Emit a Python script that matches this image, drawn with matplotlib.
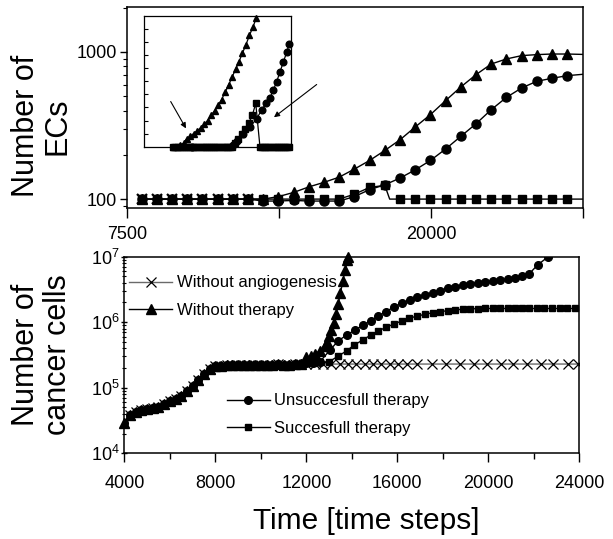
import matplotlib
matplotlib.use("Agg")
import matplotlib.pyplot as plt
from matplotlib.ticker import LogLocator, NullFormatter

plt.rcParams['font.family'] = ['Liberation Sans', 'DejaVu Sans']
plt.rcParams['mathtext.default'] = 'regular'

# ---- top panel: number of ECs ----
ec_t = [8100, 8725, 9350, 9975, 10600, 11225, 11850, 12475, 13100, 13725,
        14350, 14975, 15600, 16225, 16850, 17475, 18100, 18725, 19350, 19975,
        20600, 21225, 21850, 22475, 23100, 23725, 24350, 24975, 25600, 26250]
ec_tri = [100, 100, 100, 100, 100, 100, 100, 100, 100, 104,
          111, 121, 130, 141, 160, 183, 214, 253, 309, 375,
          467, 578, 701, 828, 896, 944, 959, 968, 968, 962]
ec_circ = [100, 100, 100, 100, 100, 100, 100, 100, 97, 97,
           98, 97, 97, 97, 104, 116, 125, 139, 158, 183,
           219, 267, 325, 405, 491, 569, 632, 662, 690, 705]
ec_sq_t = [8100, 8725, 9350, 9975, 10600, 11225, 11850, 12475, 13100, 13725,
           14350, 14975, 15600, 16225, 16850, 17475, 18100, 18300, 18725, 19350,
           19975, 20600, 21225, 21850, 22475, 23100, 23725, 24350, 24975, 25600, 26250]
ec_sq = [100, 100, 100, 100, 100, 100, 100, 100, 100, 100,
         100, 100, 100, 100, 108, 120, 124, 100, 100, 100,
         100, 100, 100, 100, 100, 100, 100, 100, 100, 100, 100]
ec_noang_t = [8100, 8725, 9350, 9975, 10600, 11225, 11850, 12475]
ec_noang = [100, 100, 100, 100, 100, 100, 100, 100]

# ---- inset ----
ins_tri_t = [12100, 12350, 12600, 12850, 13050, 13300, 13550, 13800, 14050, 14300,
             14550, 14800, 15050, 15300, 15550, 15800, 16050, 16300, 16550, 16800,
             17050, 17300, 17550, 17800, 18050]
ins_tri = [100, 100, 102, 106, 112, 116, 120, 124, 129, 134,
           140, 148, 155, 163, 172, 183, 194, 206, 218, 230,
           243, 256, 270, 283, 297]
ins_circ_t = [13450, 16400, 16650, 17100, 17590, 18070, 18420, 18730, 19020, 19250,
              19490, 19730, 19970, 20210, 20400]
ins_circ = [100, 102, 108, 120, 130, 143, 156, 166, 175, 186,
            199, 214, 229, 244, 257]
ins_sq_t = [12100, 12250, 12400, 12550, 12700, 12850, 13000, 13150, 13300, 13450,
            13600, 13750, 13900, 14050, 14200, 14350, 14500, 14650, 14800, 14950,
            15100, 15250, 15400, 15550, 15700, 15850, 16000, 16150, 16300, 16500,
            16750, 17000, 17250, 17500, 17750, 18000, 18300, 18450, 18600, 18750,
            18900, 19050, 19200, 19350, 19500, 19650, 19800, 19950, 20100, 20250, 20400]
ins_sq = [100, 100, 100, 100, 100, 100, 100, 100, 100, 100,
          100, 100, 100, 100, 100, 100, 100, 100, 100, 100,
          100, 100, 100, 100, 100, 100, 100, 100, 100, 106,
          112, 120, 127, 136, 148, 166, 100, 100, 100, 100,
          100, 100, 100, 100, 100, 100, 100, 100, 100, 100, 100]

# ---- bottom panel: number of cancer cells ----
early_t = [4000, 4250, 4500, 4750, 5000, 5250, 5500, 5750, 6000, 6250,
           6500, 6750, 7000, 7250, 7500, 7750, 8000, 8250, 8500, 8750,
           9000, 9250, 9500, 9750, 10000, 10250, 10500, 10750, 11000, 11250,
           11500, 11750]
early_v = [2.9e4, 3.8e4, 4.2e4, 4.5e4, 4.7e4, 4.85e4, 5.1e4, 5.7e4, 6.2e4, 6.7e4,
           7.4e4, 8.8e4, 1.08e5, 1.33e5, 1.62e5, 1.92e5, 2.12e5, 2.18e5, 2.2e5, 2.24e5,
           2.21e5, 2.25e5, 2.22e5, 2.26e5, 2.23e5, 2.25e5, 2.22e5, 2.27e5, 2.24e5, 2.26e5,
           2.28e5, 2.3e5]
noang_t = [12000, 12400, 12750, 13100, 13480, 13850, 14200, 14580, 14950, 15300,
           15680, 16040, 16410, 16850, 17500, 18150, 18750, 19350, 19950, 20550,
           21100, 21700, 22300, 22850, 23500, 23950]
noang_v = [2.3e5, 2.3e5, 2.3e5, 2.3e5, 2.3e5, 2.3e5, 2.3e5, 2.3e5, 2.3e5, 2.3e5,
           2.3e5, 2.3e5, 2.3e5, 2.3e5, 2.3e5, 2.3e5, 2.3e5, 2.3e5, 2.3e5, 2.3e5,
           2.3e5, 2.3e5, 2.3e5, 2.3e5, 2.3e5, 2.3e5]
tri_t = [12000, 12200, 12400, 12600, 12800, 12900, 13000, 13100, 13200, 13300,
         13400, 13500, 13600, 13700, 13800, 13850]
tri_v = [2.9e5, 3.1e5, 3.3e5, 3.7e5, 4.4e5, 5.0e5, 6.2e5, 7.6e5, 9.8e5, 1.35e6,
         1.9e6, 2.8e6, 4.2e6, 6.2e6, 8.8e6, 1.0e7]
circ_t = [12000, 12300, 12600, 13050, 13400, 13780, 14140, 14510, 14850, 15170,
          15500, 15830, 16190, 16560, 16880, 17220, 17560, 17880, 18220, 18540,
          18880, 19200, 19540, 19860, 20200, 20520, 20840, 21150, 21470, 21790,
          22160, 22600]
circ_v = [2.35e5, 2.4e5, 2.5e5, 3.8e5, 5.2e5, 6.4e5, 7.6e5, 9.1e5, 1.06e6, 1.25e6,
          1.45e6, 1.69e6, 1.95e6, 2.18e6, 2.4e6, 2.61e6, 2.82e6, 3.03e6, 3.3e6, 3.49e6,
          3.7e6, 3.83e6, 4.01e6, 4.16e6, 4.26e6, 4.41e6, 4.52e6, 4.73e6, 5.13e6, 5.45e6,
          7.47e6, 9.8e6]
sq_t = [12000, 12300, 12600, 13000, 13410, 13780, 14110, 14480, 14830, 15170,
        15500, 15860, 16190, 16530, 16880, 17220, 17560, 17880, 18220, 18540,
        18880, 19200, 19540, 19860, 20200, 20520, 20840, 21150, 21470, 21790,
        22130, 22460, 22800, 23130, 23470, 23810]
sq_v = [2.35e5, 2.4e5, 2.45e5, 2.5e5, 3.05e5, 3.68e5, 4.5e5, 5.36e5, 6.38e5, 7.35e5,
        8.38e5, 9.4e5, 1.045e6, 1.15e6, 1.245e6, 1.32e6, 1.4e6, 1.45e6, 1.5e6, 1.54e6,
        1.58e6, 1.6e6, 1.61e6, 1.62e6, 1.62e6, 1.62e6, 1.62e6, 1.62e6, 1.62e6, 1.62e6,
        1.62e6, 1.62e6, 1.62e6, 1.62e6, 1.62e6, 1.62e6]

labels = ['Without angiogenesis', 'Without therapy',
          'Unsuccesfull therapy', 'Succesfull therapy']

fig = plt.figure(figsize=(6.13, 5.39), dpi=100)

# Top panel
ax1 = fig.add_axes([0.2072, 0.6141, 0.7439, 0.3729])
ax1.set_yscale('log')
ax1.plot(ec_noang_t, ec_noang, ls='none', marker='x', ms=7, mew=1.6, color='k')
sq_marks = [i for i, t in enumerate(ec_sq_t) if t in ec_t[:-1]]
ax1.plot(ec_sq_t, ec_sq, '-', color='k', lw=1, marker='s', ms=5.5, markevery=sq_marks)
ax1.plot(ec_t, ec_circ, '-', color='k', lw=1, marker='o', ms=6.5,
         markevery=slice(0, len(ec_t) - 1))
ax1.plot(ec_t, ec_tri, '-', color='k', lw=1, marker='^', ms=7,
         markevery=slice(0, len(ec_t) - 1))
ax1.set_xlim(7500, 26250)
ax1.set_ylim(87, 2020)
ax1.set_xticks([7500, 13750, 20000, 26250], ['7500', '', '20000', ''])
ax1.set_yticks([100, 1000], ['100', '1000'])
ax1.yaxis.set_minor_locator(LogLocator(subs=(2, 3, 4, 5, 6, 7, 8, 9)))
ax1.yaxis.set_minor_formatter(NullFormatter())
ax1.tick_params(axis='both', which='major', direction='out', length=5, width=1,
                labelsize=13, pad=2)
ax1.tick_params(axis='x', which='major', length=7, pad=6)
ax1.tick_params(axis='y', which='minor', direction='out', length=3, width=0.8)
for s in ax1.spines.values():
    s.set_linewidth(1.1)

# Inset
axin = fig.add_axes([0.2349, 0.7278, 0.2393, 0.2430])
axin.plot(ins_sq_t, ins_sq, '-', color='k', lw=0.9, marker='s', ms=4.2, clip_on=False)
axin.plot(ins_circ_t, ins_circ, '-', color='k', lw=0.9, marker='o', ms=4.8, clip_on=False)
axin.plot(ins_tri_t, ins_tri, '-', color='k', lw=0.9, marker='^', ms=5, clip_on=False)
axin.set_xlim(10000, 20500)
axin.set_ylim(100, 300)
axin.set_xticks([])
axin.set_yticks([120, 140, 160, 180, 200, 220, 240, 260, 280])
axin.set_yticklabels([])
axin.tick_params(axis='y', direction='in', length=3, width=0.8)
for s in axin.spines.values():
    s.set_linewidth(0.9)
arrow = dict(arrowstyle='-|>', color='k', lw=0.8, mutation_scale=8,
             shrinkA=0, shrinkB=0)
axin.annotate('', xy=(13006, 128), xytext=(11911, 169), arrowprops=arrow)
axin.annotate('', xy=(19304, 145), xytext=(22360, 195), arrowprops=arrow,
              annotation_clip=False)

# Bottom panel
ax2 = fig.add_axes([0.2028, 0.159, 0.7424, 0.3648])
ax2.set_yscale('log')
h_x, = ax2.plot(early_t + noang_t, early_v + noang_v, '-', color='#6a6a6a', lw=1,
                marker='x', ms=6.5, mew=0.9, mec='k')
h_sq, = ax2.plot(early_t + sq_t, early_v + sq_v, '-', color='k', lw=1,
                 marker='s', ms=4.8)
h_c, = ax2.plot(early_t + circ_t, early_v + circ_v, '-', color='k', lw=1,
                marker='o', ms=5.5)
h_tri, = ax2.plot(early_t + tri_t, early_v + tri_v, '-', color='k', lw=1,
                  marker='^', ms=6.5, clip_on=False)
ax2.set_xlim(4000, 24000)
ax2.set_ylim(1e4, 1e7)
ax2.set_xticks([4000, 8000, 12000, 16000, 20000, 24000])
ax2.set_xticks([6000, 10000, 14000, 18000, 22000], minor=True)
ax2.set_yticks([1e4, 1e5, 1e6, 1e7])
ax2.yaxis.set_minor_locator(LogLocator(subs=(2, 3, 4, 5, 6, 7, 8, 9)))
ax2.yaxis.set_minor_formatter(NullFormatter())
ax2.tick_params(axis='x', which='major', direction='out', length=6.5, width=1,
                labelsize=13, pad=9)
ax2.tick_params(axis='x', which='minor', direction='out', length=4, width=1)
ax2.tick_params(axis='y', which='major', direction='inout', length=5, width=1,
                labelsize=13, pad=1)
ax2.tick_params(axis='y', which='minor', direction='inout', length=3, width=0.8)
for s in ax2.spines.values():
    s.set_linewidth(1.1)

leg1 = ax2.legend([h_x, h_tri], labels[:2], loc='center left',
                  bbox_to_anchor=(0.0103, 0.7965), frameon=False, fontsize=12,
                  handlelength=2.6, handletextpad=0.25, labelspacing=0.75,
                  borderpad=0, borderaxespad=0, numpoints=1)
ax2.add_artist(leg1)
ax2.legend([h_c, h_sq], labels[2:], loc='center left',
           bbox_to_anchor=(0.225, 0.1966), frameon=False, fontsize=12,
           handlelength=2.6, handletextpad=0.25, labelspacing=0.75,
           borderpad=0, borderaxespad=0, numpoints=1)

fig.text(41.5 / 613, 1 - 126 / 539, 'Number of\nECs', rotation=90, ha='center',
         va='center', fontsize=22, linespacing=1.05, multialignment='center')
fig.text(42 / 613, 1 - 355 / 539, 'Number of\ncancer cells', rotation=90,
         ha='center', va='center', fontsize=22, linespacing=1.1,
         multialignment='center')
fig.text(366.5 / 613, 1 - 521 / 539, 'Time [time steps]', ha='center',
         va='center', fontsize=21.5)

fig.savefig('out.png', dpi=100)
